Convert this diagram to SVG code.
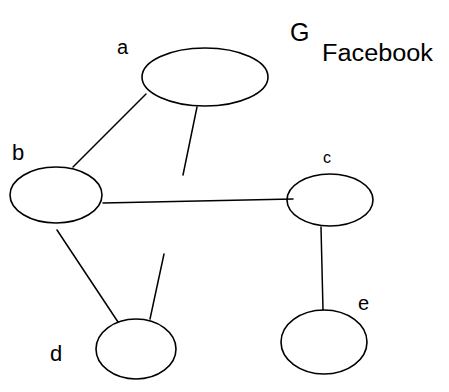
<svg xmlns="http://www.w3.org/2000/svg" width="449" height="392" viewBox="0 0 449 392">
<style>
.n{fill:none;stroke:#000;stroke-width:1.6}
.e{stroke:#000;stroke-width:1.5;fill:none;stroke-linecap:round}
.t{font-family:"Liberation Sans",Arial,sans-serif;fill:#000}
</style>
<rect width="449" height="392" fill="#fff"/>
<g id="edges">
<line class="e" x1="146" y1="94" x2="73" y2="167"/>
<line class="e" x1="197" y1="107" x2="183" y2="175"/>
<line class="e" x1="103" y1="203" x2="293" y2="199"/>
<line class="e" x1="57" y1="230" x2="118" y2="322"/>
<line class="e" x1="150" y1="319" x2="164" y2="254"/>
<line class="e" x1="321" y1="227" x2="323" y2="310"/>
</g>
<g id="node-a"><ellipse class="n" cx="205" cy="77" rx="63" ry="29"/><text class="t" x="117" y="54" font-size="20">a</text></g>
<g id="node-b"><ellipse class="n" cx="56" cy="195" rx="46" ry="28"/><text class="t" x="12" y="160" font-size="22">b</text></g>
<g id="node-c"><ellipse class="n" cx="330" cy="200" rx="43" ry="26"/><text class="t" x="323" y="163" font-size="16">c</text></g>
<g id="node-d"><ellipse class="n" cx="136" cy="349" rx="40" ry="30"/><text class="t" x="50" y="361" font-size="22">d</text></g>
<g id="node-e"><ellipse class="n" cx="324" cy="342" rx="43" ry="32"/><text class="t" x="358" y="310" font-size="20">e</text></g>
<g id="title"><text class="t" x="290" y="41" font-size="25">G</text><text class="t" x="322" y="61" font-size="23" textLength="111" lengthAdjust="spacingAndGlyphs">Facebook</text></g>
</svg>
